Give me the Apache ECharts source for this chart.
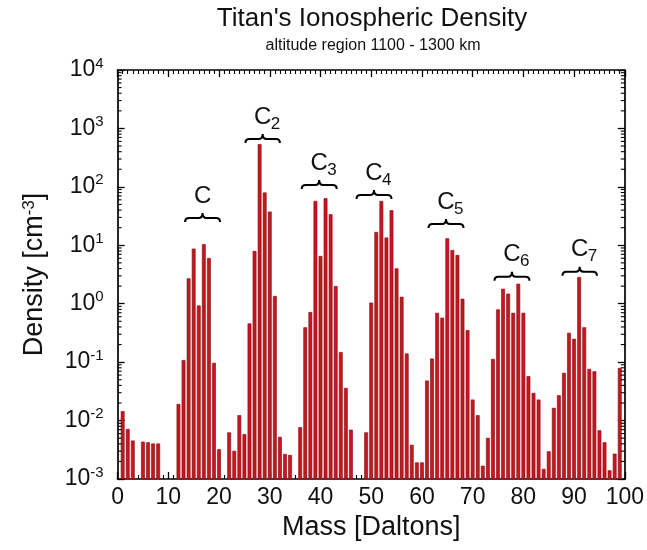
<!DOCTYPE html>
<html><head><meta charset="utf-8">
<script src="https://cdn.jsdelivr.net/npm/echarts@6/dist/echarts.min.js"></script>
<style>html,body{margin:0;padding:0;background:#fff}#c{width:647px;height:550px}</style>
</head><body><div id="c"></div>
<script>
// ---- data ----
const masses  = [1,2,3,5,6,7,8,12,13,14,15,16,17,18,19,20,22,23,24,25,26,27,28,29,30,31,32,33,34,36,37,38,39,40,41,42,43,44,45,46,49,50,51,52,53,54,55,56,57,58,59,60,61,62,63,64,65,66,67,68,69,70,71,72,73,74,75,76,77,78,79,80,81,82,83,84,85,86,87,88,89,90,91,92,93,94,95,96,97,98,99];
const density = [0.0143,0.0071,0.0045,0.0043,0.0042,0.0040,0.0040,0.019,0.107,2.68,8.65,0.92,10.3,5.98,0.096,0.0032,0.0062,0.0030,0.0122,0.0058,0.454,7.9,532,78.9,37.3,1.34,0.0052,0.00265,0.00255,0.0076,0.39,0.71,56.7,6.48,63,33.6,1.98,0.147,0.0358,0.0069,0.0062,1.03,16.7,56.7,13.4,39.3,3.98,1.30,0.139,0.0038,0.0019,0.0019,0.0478,0.114,0.69,0.57,13.0,8.2,6.74,1.2,0.349,0.0226,0.0122,0.00167,0.005,0.112,0.79,1.78,1.47,0.69,2.17,0.69,0.0568,0.0294,0.0226,0.00147,0.00294,0.0163,0.0268,0.0648,0.314,0.248,2.83,0.39,0.0758,0.069,0.00674,0.0042,0.00139,0.00268,0.0788];

const groupNames = ['C','C','C','C','C','C','C'];
const groupSubs  = ['','2','3','4','5','6','7'];
const groupStart = [13.3,25.2,36.3,47.1,61.3,74.3,87.7];
const groupEnd   = [20.2,32.0,43.2,54.0,68.2,81.2,94.5];
const groupLevel = [29.3,659,108,72.6,23.1,2.9,3.53];

const titleText = "Titan's Ionospheric Density";
const subtitleText = 'altitude region 1100 - 1300 km';
const xName = 'Mass [Daltons]';

const yMin = 1e-3, yMax = 1e4;
const FONT = "'Liberation Sans', Arial, sans-serif";

// ---- build ----
const barData = masses.map((m, i) => [m, density[i]]);
const groupData = groupStart.map((s, i) => [s, groupLevel[i], groupEnd[i], i]);
const minorTicks = [];
for (let e = -3; e < 4; e++) for (let k = 2; k <= 9; k++) minorTicks.push([0, k * Math.pow(10, e)]);

const chart = echarts.init(document.getElementById('c'), null, {renderer: 'canvas'});

const axisCommon = {
  axisLine: {show: true, onZero: false, lineStyle: {color: '#000', width: 1.7}},
  axisTick: {show: true, inside: true, length: 7, lineStyle: {color: '#000', width: 1.3}},
  splitLine: {show: false}
};

chart.setOption({
  animation: false,
  backgroundColor: '#fff',
  grid: {left: 117.6, right: 21, top: 70, bottom: 71, containLabel: false},
  graphic: [
    {type: 'text', style: {text: titleText, x: 372, y: 19, font: '26px ' + FONT, fill: '#111', align: 'center', verticalAlign: 'middle'}},
    {type: 'text', style: {text: subtitleText, x: 373, y: 46, font: '16px ' + FONT, fill: '#111', align: 'center', verticalAlign: 'middle'}}
  ],
  xAxis: [
    Object.assign({}, axisCommon, {
      type: 'value', min: 0, max: 100, interval: 10, position: 'bottom',
      name: xName, nameLocation: 'middle', nameGap: 31,
      nameTextStyle: {fontSize: 27, fontFamily: FONT, color: '#111', verticalAlign: 'top'},
      minorTick: {show: true, splitNumber: 10, length: 4, lineStyle: {color: '#000', width: 1.1}},
      axisLabel: {fontSize: 23, fontFamily: FONT, color: '#111', margin: 7}
    }),
    Object.assign({}, axisCommon, {
      type: 'value', min: 0, max: 100, interval: 10, position: 'top',
      minorTick: {show: true, splitNumber: 10, length: 4, lineStyle: {color: '#000', width: 1.1}},
      axisLabel: {show: false}
    })
  ],
  yAxis: [
    Object.assign({}, axisCommon, {
      type: 'log', logBase: 10, min: yMin, max: yMax, position: 'left',
      name: '{n|Density [cm}{s|-3}{n|]}', nameLocation: 'middle', nameGap: 70, nameRotate: 90,
      nameTextStyle: {rich: {n: {fontSize: 27, fontFamily: FONT, color: '#111'}, s: {fontSize: 17, fontFamily: FONT, color: '#111', verticalAlign: 'top', lineHeight: 16}}},
      axisLabel: {
        margin: 14,
        formatter: v => '{b|10}{s|' + Math.round(Math.log10(v)) + '}',
        rich: {b: {fontSize: 23, fontFamily: FONT, color: '#111', lineHeight: 28}, s: {fontSize: 15, fontFamily: FONT, color: '#111', verticalAlign: 'top', lineHeight: 15}}
      }
    }),
    Object.assign({}, axisCommon, {
      type: 'log', logBase: 10, min: yMin, max: yMax, position: 'right',
      axisLabel: {show: false}
    })
  ],
  series: [
    {
      type: 'custom', name: 'density', xAxisIndex: 0, yAxisIndex: 0, clip: true,
      data: barData,
      renderItem: (params, api) => {
        const m = api.value(0), v = api.value(1);
        const top = api.coord([m - 0.31, v]);
        const bot = api.coord([m + 0.31, yMin]);
        return {type: 'rect', shape: {x: top[0], y: top[1], width: bot[0] - top[0], height: bot[1] - top[1]},
          style: {fill: '#c8161f', stroke: '#7e0c12', lineWidth: 0.6}};
      }
    },
    {
      type: 'custom', name: 'minor', xAxisIndex: 0, yAxisIndex: 0, silent: true,
      data: minorTicks,
      renderItem: (params, api) => {
        const v = api.value(1);
        const pl = api.coord([0, v]), pr = api.coord([100, v]);
        return {type: 'group', children: [
          {type: 'line', shape: {x1: pl[0], y1: pl[1], x2: pl[0] + 4, y2: pl[1]}, style: {stroke: '#000', lineWidth: 1.1}},
          {type: 'line', shape: {x1: pr[0] - 4, y1: pr[1], x2: pr[0], y2: pr[1]}, style: {stroke: '#000', lineWidth: 1.1}}
        ]};
      }
    },
    {
      type: 'custom', name: 'groups', xAxisIndex: 0, yAxisIndex: 0, silent: true,
      data: groupData,
      renderItem: (params, api) => {
        const i = api.value(3);
        const p1 = api.coord([api.value(0), api.value(1)]);
        const p2 = api.coord([api.value(2), api.value(1)]);
        const x1 = p1[0], x2 = p2[0], y = p1[1], cx = (x1 + x2) / 2;
        const d = 'M' + x1 + ' ' + (y + 4) + ' Q' + x1 + ' ' + y + ' ' + (x1 + 4) + ' ' + y +
          ' L' + (cx - 4) + ' ' + y + ' Q' + cx + ' ' + y + ' ' + cx + ' ' + (y - 5) +
          ' Q' + cx + ' ' + y + ' ' + (cx + 4) + ' ' + y +
          ' L' + (x2 - 4) + ' ' + y + ' Q' + x2 + ' ' + y + ' ' + x2 + ' ' + (y + 4);
        const children = [
          {type: 'path', shape: {pathData: d}, style: {stroke: '#000', lineWidth: 2, fill: null}},
          {type: 'text', style: {text: groupNames[i], x: cx, y: y - 22, font: '24px ' + FONT, fill: '#111', align: 'center', verticalAlign: 'middle'}}
        ];
        if (groupSubs[i]) children.push({type: 'text', style: {text: groupSubs[i], x: cx + 8, y: y - 15, font: '17px ' + FONT, fill: '#111', align: 'left', verticalAlign: 'middle'}});
        return {type: 'group', children: children};
      }
    }
  ]
});
</script></body></html>
